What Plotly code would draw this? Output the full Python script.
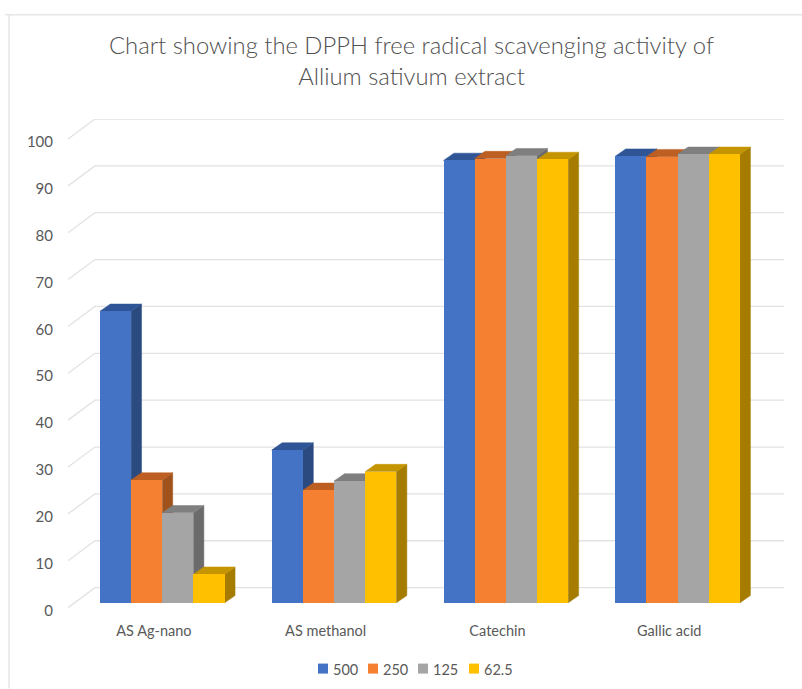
import plotly.graph_objects as go

# Chart data
categories = ["AS Ag-nano", "AS methanol", "Catechin", "Gallic acid"]
concentrations = ["500", "250", "125", "62.5"]
values_500 = [62.2, 32.6, 94.4, 95.3]
values_250 = [26.2, 24.0, 94.8, 95.2]
values_125 = [19.2, 26.0, 95.4, 95.7]
values_62_5 = [6.1, 28.0, 94.6, 95.7]
value_ticks = list(range(0, 101, 10))

series = [values_500, values_250, values_125, values_62_5]
front_colors = ["#4472C4", "#F58032", "#A5A5A5", "#FFC000"]
side_colors = ["#2A4A80", "#A0521C", "#6B6B6B", "#A67C00"]
top_colors = ["#2F5597", "#BD5F22", "#7F7F7F", "#C49500"]

# Pseudo-3D projection, in axis units (x: category bands, y: value units)
X_MAX = 4.168
Y_MIN, Y_MAX = -2.0, 104.27
WALL_DX, WALL_DY = 0.157, 4.27
BAR_DX, BAR_DY = 0.0605, 1.55
BAR_LEFT = 0.186
BAR_WIDTH = 0.1815
BAR_BASE = 1.03
LABEL_NUDGE = 0.6  # drops the value labels slightly below the gridline ends
GRID = "#E2E2E2"
TEXT = "#595959"
FONT = "Lato"

# Plot area in page pixels, used to place the legend row and border
PLOT_LEFT, PLOT_WIDTH = 68, 716
PLOT_TOP, PLOT_BOTTOM = 119.3, 617.4
PLOT_HEIGHT = PLOT_BOTTOM - PLOT_TOP


def paper_x(px):
    return (px - PLOT_LEFT) / PLOT_WIDTH


def paper_y(py):
    return (PLOT_BOTTOM - py) / PLOT_HEIGHT


fig = go.Figure()

# Back wall and the diagonal gridlines running to it
grid_x, grid_y = [], []
for v in value_ticks:
    grid_x += [0, WALL_DX, X_MAX, None]
    grid_y += [v, v + WALL_DY, v + WALL_DY, None]
fig.add_trace(go.Scatter(x=grid_x, y=grid_y, mode="lines", cliponaxis=False,
                         line=dict(color=GRID, width=1.3),
                         hoverinfo="skip", showlegend=False))


def face(xs, ys, color):
    fig.add_trace(go.Scatter(x=xs + xs[:1], y=ys + ys[:1], mode="lines", fill="toself",
                             fillcolor=color, line=dict(color=color, width=0.5),
                             cliponaxis=False, hoverinfo="skip", showlegend=False))


# Side and top faces, painted left to right on the lower axes
for i in range(len(categories)):
    for j, vals in enumerate(series):
        x0 = i + BAR_LEFT + j * BAR_WIDTH
        x1 = x0 + BAR_WIDTH
        y0 = BAR_BASE
        y1 = BAR_BASE + vals[i]
        face([x1, x1 + BAR_DX, x1 + BAR_DX, x1],
             [y0, y0 + BAR_DY, y1 + BAR_DY, y1], side_colors[j])
        face([x0, x0 + BAR_DX, x1 + BAR_DX, x1],
             [y1, y1 + BAR_DY, y1 + BAR_DY, y1], top_colors[j])

# Front faces sit on an overlaying axis pair so they cover the faces behind them
for j, vals in enumerate(series):
    fig.add_trace(go.Bar(
        x=[i + BAR_LEFT + (j + 0.5) * BAR_WIDTH for i in range(len(categories))],
        y=vals, base=BAR_BASE, width=BAR_WIDTH, name=concentrations[j],
        marker=dict(color=front_colors[j], line=dict(width=0)),
        xaxis="x2", yaxis="y2", showlegend=False,
    ))

# Hand-placed legend row beneath the category labels
legend_x = [318, 368, 418, 469]
shapes = []
annotations = []
for name, color, px in zip(concentrations, front_colors, legend_x):
    shapes.append(dict(type="rect", xref="paper", yref="paper",
                       x0=paper_x(px), x1=paper_x(px + 10),
                       y0=paper_y(674), y1=paper_y(664),
                       fillcolor=color, line=dict(width=0)))
    annotations.append(dict(text=name, xref="paper", yref="paper", showarrow=False,
                            x=paper_x(px + 13), y=paper_y(669.5),
                            xanchor="left", yanchor="middle",
                            font=dict(family=FONT, size=14.5, color=TEXT)))

# Outer chart border: left and top edges
for x0, y0, x1, y1 in [(9, 15, 9, 689), (5, 15, 802, 15)]:
    shapes.append(dict(type="line", xref="paper", yref="paper",
                       x0=paper_x(x0), x1=paper_x(x1),
                       y0=paper_y(y0), y1=paper_y(y1),
                       line=dict(color="#E6E6E6", width=1.5)))

fig.update_layout(
    width=802, height=689,
    margin=dict(l=PLOT_LEFT, r=802 - PLOT_LEFT - PLOT_WIDTH, t=PLOT_TOP, b=689 - PLOT_BOTTOM, pad=0),
    paper_bgcolor="white", plot_bgcolor="rgba(0,0,0,0)",
    barmode="overlay", bargap=0,
    title=dict(text="Chart showing the DPPH free radical scavenging activity of<br>Allium sativum extract",
               x=411.5 / 802, xanchor="center", y=1 - 54 / 689, yanchor="middle",
               font=dict(family=FONT, size=23.8, color="#505050", weight=300)),
    xaxis=dict(range=[0, X_MAX], showgrid=False, zeroline=False, showline=False,
               tickmode="array", tickvals=[i + 0.5 for i in range(len(categories))],
               ticktext=categories, ticks="", ticklabelstandoff=3,
               tickfont=dict(family=FONT, size=14.5, color=TEXT)),
    yaxis=dict(range=[Y_MIN, Y_MAX], showgrid=False, zeroline=False, showline=False,
               tickmode="array", tickvals=[v - LABEL_NUDGE for v in value_ticks],
               ticktext=[str(v) for v in value_ticks], ticks="", ticklabelstandoff=14,
               tickfont=dict(family=FONT, size=15, color=TEXT)),
    xaxis2=dict(range=[0, X_MAX], overlaying="x", visible=False),
    yaxis2=dict(range=[Y_MIN, Y_MAX], overlaying="y", visible=False),
    shapes=shapes, annotations=annotations,
)

fig.write_html("out.html")
